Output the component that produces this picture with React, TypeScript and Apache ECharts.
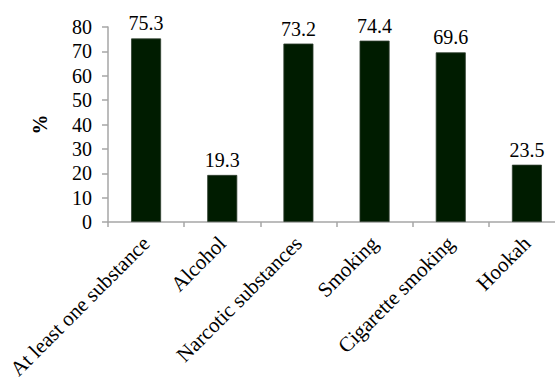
import React, { useEffect, useRef } from "react";
import * as echarts from "echarts";

const categories = [
  "At least one substance",
  "Alcohol",
  "Narcotic substances",
  "Smoking",
  "Cigarette smoking",
  "Hookah",
];
const values = [75.3, 19.3, 73.2, 74.4, 69.6, 23.5];
const yAxisName = "%";

const FONT = "Liberation Serif";

export default function App() {
  const ref = useRef<HTMLDivElement>(null);
  useEffect(() => {
    if (!ref.current) return;
    const chart = echarts.init(ref.current, undefined, { renderer: "svg" });
    chart.setOption({
      animation: false,
      backgroundColor: "#ffffff",
      textStyle: { fontFamily: FONT },
      grid: {
        left: 108,
        top: 27,
        height: 195,
        width: 457,
        containLabel: false,
        outerBoundsMode: "none",
      },
      xAxis: {
        type: "category",
        data: categories,
        axisLine: { lineStyle: { color: "#a6a6a6", width: 1.5 } },
        axisTick: { show: true, length: 5, alignWithLabel: false, lineStyle: { color: "#a6a6a6", width: 1.5 } },
        axisLabel: {
          rotate: 45,
          interval: 0,
          margin: 18,
          color: "#000",
          fontFamily: FONT,
          fontSize: 21,
        },
      },
      yAxis: {
        type: "value",
        min: 0,
        max: 80,
        interval: 10,
        name: yAxisName,
        nameLocation: "middle",
        nameGap: 58,
        nameRotate: 90,
        nameTextStyle: { fontFamily: FONT, fontSize: 20, fontWeight: "bold", color: "#000" },
        splitLine: { show: false },
        axisLine: { show: true, lineStyle: { color: "#a6a6a6", width: 1.5 } },
        axisTick: { show: true, length: 6, lineStyle: { color: "#a6a6a6", width: 1.5 } },
        axisLabel: { color: "#000", fontFamily: FONT, fontSize: 20, margin: 16 },
      },
      series: [
        {
          type: "bar",
          data: values,
          barWidth: 30,
          itemStyle: { color: "#001c00", borderColor: "#2e3f2e", borderWidth: 0.8 },
          label: {
            show: true,
            position: "top",
            distance: 5,
            color: "#000",
            fontFamily: FONT,
            fontSize: 20,
          },
        },
      ],
    });
    return () => chart.dispose();
  }, []);
  return (
    <div
      ref={ref}
      style={{ position: "fixed", left: 0, top: 0, width: 555, height: 381, background: "#fff" }}
    />
  );
}
